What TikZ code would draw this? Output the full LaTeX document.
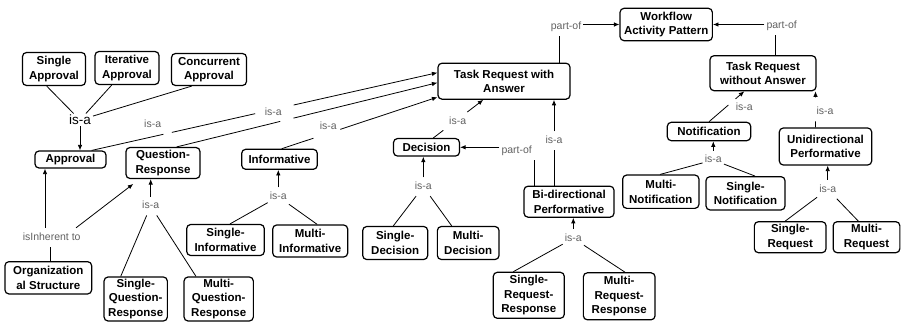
\documentclass[tikz,border=0pt]{standalone}
\usepackage{fontspec}
\setmainfont{Liberation Sans}
\usetikzlibrary{arrows.meta,calc}
\tikzset{
 concept/.style={draw, line width=1.2pt, rounded corners=4pt, align=center, inner sep=0pt, font=\bfseries\fontsize{11.5}{14.4}\selectfont},
 lab/.style={text=black!62, font=\fontsize{10.5}{12}\selectfont, inner xsep=2pt, inner ysep=4.5pt, text height=7.5pt, text depth=2pt},
 conn/.style={line width=0.8pt},
 arr/.style={conn, -{Latex[length=5.5pt,width=4.5pt]}},
}
\begin{document}
\begin{tikzpicture}[x=1pt,y=-1pt]
\useasboundingbox (0,0) rectangle (901,324);
% concepts
\node[concept, minimum width=63pt, minimum height=33pt] (sa) at (54,69) {Single\\Approval};
\node[concept, minimum width=64pt, minimum height=33pt] (ia) at (127,68) {Iterative\\Approval};
\node[concept, minimum width=75pt, minimum height=32pt] (ca) at (209,69.5) {Concurrent\\Approval};
\node[concept, minimum width=71pt, minimum height=17pt] (appr) at (70.5,159.5) {Approval};
\node[concept, minimum width=74pt, minimum height=31pt] (qr) at (163,163) {Question-\\Response};
\node[concept, minimum width=75.6pt, minimum height=20pt] (inf) at (279.5,159.3) {Informative};
\node[concept, minimum width=86.7pt, minimum height=32.3pt] (org) at (48.3,277.8) {Organization\\al Structure};
\node[concept, minimum width=63.3pt, minimum height=44pt] (sqr) at (135.7,299) {Single-\\Question-\\Response};
\node[concept, minimum width=69.3pt, minimum height=44pt] (mqr) at (218.7,299) {Multi-\\Question-\\Response};
\node[concept, minimum width=77.6pt, minimum height=31pt] (sinf) at (225.5,240) {Single-\\Informative};
\node[concept, minimum width=75pt, minimum height=32pt] (minf) at (310.2,241) {Multi-\\Informative};
\node[concept, minimum width=66pt, minimum height=17.5pt] (dec) at (426.5,147.3) {Decision};
\node[concept, minimum width=65pt, minimum height=33pt] (sdec) at (395.2,243) {Single-\\Decision};
\node[concept, minimum width=61.7pt, minimum height=33pt] (mdec) at (468.2,243) {Multi-\\Decision};
\node[concept, minimum width=132pt, minimum height=36pt] (trwa) at (504,81.2) {Task Request with\\Answer};
\node[concept, minimum width=90pt, minimum height=31pt] (bidir) at (569,201.7) {Bi-directional\\Performative};
\node[concept, minimum width=71pt, minimum height=46pt] (srr) at (528.8,295.3) {Single-\\Request-\\Response};
\node[concept, minimum width=71.7pt, minimum height=47pt] (mrr) at (619.2,296.3) {Multi-\\Request-\\Response};
\node[concept, minimum width=92.3pt, minimum height=32.4pt] (wap) at (666.2,24.5) {Workflow\\Activity Pattern};
\node[concept, minimum width=106pt, minimum height=35pt] (trwoa) at (763,73.2) {Task Request\\without Answer};
\node[concept, minimum width=83.4pt, minimum height=18.4pt] (notif) at (709,131.5) {Notification};
\node[concept, minimum width=92.4pt, minimum height=37pt] (unidir) at (825.5,146.5) {Unidirectional\\Performative};
\node[concept, minimum width=76.3pt, minimum height=33.3pt] (mnotif) at (660.8,191.7) {Multi-\\Notification};
\node[concept, minimum width=79pt, minimum height=33.3pt] (snotif) at (745.5,193.3) {Single-\\Notification};
\node[concept, minimum width=71.7pt, minimum height=31pt] (sreq) at (790.2,237.2) {Single-\\Request};
\node[concept, minimum width=66.7pt, minimum height=31pt] (mreq) at (866.5,237.2) {Multi-\\Request};
% linking phrases
\node[lab, font=\fontsize{13.5}{15}\selectfont, text=black, text height=9.5pt, text depth=0pt, inner ysep=1.5pt] (l1) at (80,120) {is-a};
\node[lab] (lA) at (152.7,125) {is-a};
\node[lab] (lB) at (273.3,112.7) {is-a};
\node[lab] (lC) at (328.3,126.7) {is-a};
\node[lab] (lInh) at (51.7,237.3) {isInherent to};
\node[lab] (lQR) at (150.7,206) {is-a};
\node[lab] (lInf) at (278.3,196.7) {is-a};
\node[lab] (lDec) at (423.3,186.7) {is-a};
\node[lab] (lDT) at (457.7,121.7) {is-a};
\node[lab] (lPO) at (516.7,150.5) {part-of};
\node[lab] (lBT) at (554,140.7) {is-a};
\node[lab] (lBi) at (573.3,238.3) {is-a};
\node[lab] (lP1) at (566,26.7) {part-of};
\node[lab] (lP2) at (781.7,26) {part-of};
\node[lab] (lN) at (744.3,107.7) {is-a};
\node[lab] (lU) at (825,111.7) {is-a};
\node[lab] (lNot) at (713.3,160) {is-a};
\node[lab] (lUn) at (827.7,189.3) {is-a};
% approvals
\draw[conn] ([xshift=-7.3pt]sa.south) -- (l1);
\draw[conn] ([xshift=-15.3pt]ia.south) -- (l1);
\draw[conn] ([xshift=-17.3pt]ca.south) -- (l1);
\draw[arr] (l1) -- (l1 |- appr.north);
% long is-a links to Task Request with Answer
\coordinate (a0) at ([xshift=21.2pt]appr.north);
\coordinate (a1) at ([yshift=8.5pt]trwa.west);
\draw[conn] (a0) -- ($(a0)!0.2075!(a1)$);
\draw[conn] ($(a0)!0.232!(a1)$) -- ($(a0)!0.473!(a1)$);
\draw[arr] ($(a0)!0.584!(a1)$) -- (a1);
\coordinate (q0) at ([xshift=13.7pt]qr.north);
\coordinate (q1) at ([yshift=-1.5pt]trwa.west);
\draw[conn] (q0) -- ($(q0)!0.397!(q1)$);
\draw[arr] ($(q0)!0.448!(q1)$) -- (q1);
\coordinate (i0) at ([xshift=2.2pt]inf.north);
\coordinate (i1) at ([yshift=-16pt]trwa.west);
\draw[conn] (i0) -- ($(i0)!0.204!(i1)$);
\draw[arr] ($(i0)!0.376!(i1)$) -- (i1);
% isInherent to
\draw[conn] ([xshift=2.4pt]org.north) -- ([xshift=2.4pt]org.north |- lInh.south);
\draw[arr] ([xshift=-6.7pt]lInh.north) -- ([xshift=-6.7pt]lInh.north |- appr.south);
\draw[arr] ([xshift=24.3pt]lInh.north) -- ([xshift=-29.7pt,yshift=-4.8pt]qr.south);
% Question-Response children
\draw[arr] (lQR) -- (lQR |- qr.south);
\draw[conn] (lQR) -- ([xshift=-15pt]sqr.north);
\draw[conn] (lQR) -- ([xshift=-22.7pt]mqr.north);
% Informative children
\draw[arr] (lInf) -- (lInf |- inf.south);
\draw[conn] (lInf) -- ([xshift=4.5pt]sinf.north);
\draw[conn] (lInf) -- ([xshift=7pt]minf.north);
% Decision children
\draw[arr] (lDec) -- (lDec |- dec.south);
\draw[conn] (lDec) -- ([xshift=-1.9pt]sdec.north);
\draw[conn] (lDec) -- ([xshift=-16.5pt]mdec.north);
% Decision is-a TRwA
\coordinate (d0) at ([xshift=6.8pt]dec.north);
\coordinate (d1) at ([xshift=-20.7pt]trwa.south);
\draw[conn] (d0) -- ($(d0)!0.2!(d1)$);
\draw[arr] ($(d0)!0.68!(d1)$) -- (d1);
% Bi-directional
\draw[conn] ([xshift=-35pt]bidir.north) -- ([xshift=-35pt]bidir.north |- lPO.south);
\draw[arr] (lPO.west |- dec.east) -- (dec.east);
\draw[conn] ([xshift=-15pt]bidir.north) -- ([xshift=-15pt]bidir.north |- lBT.south);
\draw[arr] (lBT.north) -- (lBT.north |- trwa.south);
\draw[arr] (lBi) -- (lBi |- bidir.south);
\draw[conn] (lBi) -- ([xshift=-15.5pt]srr.north);
\draw[conn] (lBi) -- ([xshift=5.8pt]mrr.north);
% part-of Workflow Activity Pattern
\draw[conn] ([xshift=55.3pt]trwa.north) -- ([xshift=55.3pt]trwa.north |- lP1.south);
\draw[arr] (lP1.east |- wap.west) -- (wap.west);
\draw[conn] ([xshift=12pt]trwoa.north) -- ([xshift=12pt]trwoa.north |- lP2.south);
\draw[arr] (lP2.west |- wap.east) -- (wap.east);
% Notification
\coordinate (n0) at (notif.north);
\coordinate (n1) at ([xshift=-18.7pt]trwoa.south);
\draw[conn] (n0) -- ($(n0)!0.55!(n1)$);
\draw[arr] ($(n0)!0.75!(n1)$) -- (n1);
\draw[arr] (lNot) -- (lNot |- notif.south);
\draw[conn] (lNot) -- ([xshift=-0.8pt]mnotif.north);
\draw[conn] (lNot) -- ([xshift=9.5pt]snotif.north);
% Unidirectional
\coordinate (u0) at ([xshift=-10pt]unidir.north);
\coordinate (u1) at (u0 |- trwoa.south);
\draw[conn] (u0) -- ($(u0)!0.17!(u1)$);
\draw[arr] ($(u0)!0.83!(u1)$) -- (u1);
\draw[arr] (lUn) -- (lUn |- unidir.south);
\draw[conn] (lUn) -- ([xshift=-5pt]sreq.north);
\draw[conn] (lUn) -- ([xshift=-8.2pt]mreq.north);
\end{tikzpicture}
\end{document}
